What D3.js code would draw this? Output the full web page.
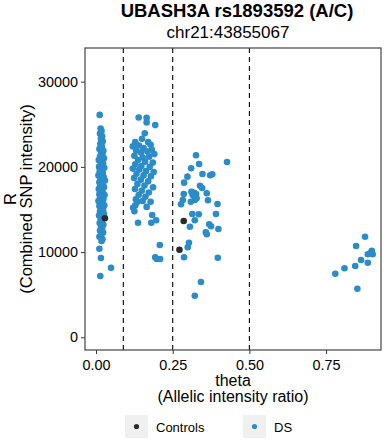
<!DOCTYPE html>
<html>
<head>
<meta charset="utf-8">
<script src="https://cdnjs.cloudflare.com/ajax/libs/d3/7.8.5/d3.min.js"></script>
<style>
  html, body { margin: 0; padding: 0; background: #fff; }
  svg { display: block; font-family: "Liberation Sans", Arial, sans-serif; }
</style>
</head>
<body>
<div id="chart"></div>
<script>
// theta / R pairs
const dsPoints = [
  // near 0
  [0.012, 26100], [0.015, 24500], [0.018, 24200], [0.013, 23900], [0.020, 23600],
  [0.016, 23300], [0.022, 23000], [0.014, 22700], [0.019, 22400], [0.011, 22100],
  [0.024, 21900], [0.017, 21700], [0.021, 21400], [0.013, 21200], [0.026, 21000],
  [0.009, 20800], [0.018, 20600], [0.023, 20400], [0.015, 20200], [0.010, 20000],
  [0.027, 19900], [0.019, 19700], [0.012, 19500], [0.022, 19300], [0.016, 19200],
  [0.008, 19000], [0.025, 18800], [0.014, 18700], [0.020, 18500], [0.029, 18400],
  [0.011, 18200], [0.017, 18100], [0.023, 17900], [0.013, 17700], [0.026, 17600],
  [0.009, 17400], [0.019, 17300], [0.015, 17100], [0.022, 17000], [0.011, 16800],
  [0.028, 16700], [0.017, 16500], [0.013, 16400], [0.024, 16200], [0.008, 16000],
  [0.020, 15900], [0.015, 15700], [0.027, 15500], [0.011, 15400], [0.019, 15200],
  [0.023, 15000], [0.013, 14800], [0.017, 14700], [0.026, 14500], [0.010, 14300],
  [0.021, 14100], [0.015, 13900], [0.019, 13600], [0.012, 13400], [0.024, 13200],
  [0.016, 13000], [0.020, 12700], [0.013, 12500], [0.023, 12300], [0.017, 12000],
  [0.011, 11800], [0.021, 11500], [0.018, 11300],
  [0.011, 10400], [0.016, 9300], [0.049, 8150], [0.014, 7200],
  // 0.09 - 0.25
  [0.139, 25800], [0.165, 25750], [0.165, 25200], [0.193, 24900], [0.159, 23950],
  [0.150, 23300], [0.128, 22900], [0.170, 22900], [0.178, 22600], [0.120, 22400],
  [0.140, 22500], [0.155, 22200], [0.182, 22000], [0.131, 21900], [0.147, 21700],
  [0.168, 21800], [0.190, 21500], [0.125, 21300], [0.152, 21100], [0.173, 21200],
  [0.137, 20800], [0.160, 20600], [0.185, 20500], [0.128, 20300], [0.148, 20100],
  [0.175, 20000], [0.120, 19800], [0.141, 19700], [0.163, 19500], [0.188, 19400],
  [0.132, 19200], [0.155, 19000], [0.179, 18900], [0.124, 18700], [0.146, 18500],
  [0.170, 18300], [0.135, 18000], [0.158, 17800], [0.186, 17600], [0.127, 17400],
  [0.149, 17200], [0.172, 17000], [0.139, 16700], [0.161, 16500], [0.130, 16200],
  [0.152, 16000], [0.178, 15900], [0.135, 15900], [0.128, 15500], [0.121, 15200],
  [0.165, 15300], [0.125, 14800],
  [0.183, 14350], [0.180, 13450], [0.196, 13730], [0.137, 13450],
  [0.208, 10830], [0.193, 9390], [0.209, 9190], [0.198, 9190],
  // 0.25 - 0.5
  [0.326, 21362], [0.427, 20575], [0.336, 20340], [0.310, 19836], [0.347, 19167],
  [0.372, 19014], [0.379, 19131], [0.298, 18850], [0.287, 18146], [0.339, 17793],
  [0.346, 17523], [0.311, 17089], [0.320, 16972], [0.326, 16819], [0.315, 16702],
  [0.286, 16819], [0.361, 16901], [0.328, 16315], [0.322, 16115], [0.309, 15915],
  [0.283, 16115], [0.277, 15610], [0.365, 16080], [0.396, 15646], [0.314, 14472],
  [0.335, 14437], [0.391, 14472], [0.322, 13732], [0.369, 13263], [0.375, 13028],
  [0.306, 12981], [0.399, 12711], [0.358, 12324], [0.361, 12089], [0.303, 11103],
  [0.299, 10563], [0.287, 9390], [0.397, 9343], [0.342, 6491], [0.322, 4883],
  // above 0.75
  [0.877, 11808], [0.848, 10716], [0.899, 10164], [0.893, 9859], [0.902, 9742],
  [0.886, 9742], [0.864, 9073], [0.886, 8756], [0.845, 8369], [0.810, 8099],
  [0.780, 7465], [0.852, 5704]
];
const controlPoints = [[0.029, 13970], [0.286, 13650], [0.272, 10282]];

const cutoffs = [0.089, 0.25, 0.5];
const xTicks = [0, 0.25, 0.5, 0.75];
const yTicks = [0, 10000, 20000, 30000];
const groups = ["Controls", "DS"];
const groupColors = ["#2b2b2b", "#2a8cc8"];

const W = 388, H = 440;
const margin = { top: 48, right: 7, bottom: 90, left: 85 };
const iw = W - margin.left - margin.right;
const ih = H - margin.top - margin.bottom;

const svg = d3.select("#chart").append("svg")
  .attr("width", W)
  .attr("height", H);

const x = d3.scaleLinear().domain([-0.0359, 0.929]).range([0, iw]);
const y = d3.scaleLinear().domain([-1490, 33950]).range([ih, 0]);

const g = svg.append("g")
  .attr("transform", `translate(${margin.left},${margin.top})`);

// cutoff lines
g.selectAll(".cut")
  .data(cutoffs)
  .enter().append("line")
  .attr("x1", d => x(d)).attr("x2", d => x(d))
  .attr("y1", 0).attr("y2", ih)
  .attr("stroke", "#000")
  .attr("stroke-width", 1.1)
  .attr("stroke-dasharray", "5,4");

// points
g.selectAll(".ds")
  .data(dsPoints)
  .enter().append("circle")
  .attr("cx", d => x(d[0]))
  .attr("cy", d => y(d[1]))
  .attr("r", 3.3)
  .attr("fill", groupColors[1]);

g.selectAll(".ctrl")
  .data(controlPoints)
  .enter().append("circle")
  .attr("cx", d => x(d[0]))
  .attr("cy", d => y(d[1]))
  .attr("r", 3.3)
  .attr("fill", groupColors[0]);

// axes
const xAxis = g.append("g")
  .attr("transform", `translate(0,${ih})`)
  .call(d3.axisBottom(x).tickValues(xTicks).tickFormat(d3.format(".2f")).tickSize(4).tickPadding(6));
const yAxis = g.append("g")
  .call(d3.axisLeft(y).tickValues(yTicks).tickFormat(d3.format("d")).tickSize(4).tickPadding(3));
[xAxis, yAxis].forEach(a => {
  a.select(".domain").remove();
  a.selectAll("text").attr("font-size", "14.4px").attr("fill", "#000").attr("font-family", null);
  a.selectAll("line").attr("stroke", "#333");
});

// panel border
g.append("rect")
  .attr("x", 0).attr("y", 0)
  .attr("width", iw).attr("height", ih)
  .attr("fill", "none")
  .attr("stroke", "#444")
  .attr("stroke-width", 1.2);

// titles
svg.append("text")
  .attr("x", 237).attr("y", 17)
  .attr("text-anchor", "middle")
  .attr("font-size", "18.5px")
  .attr("font-weight", "bold")
  .text("UBASH3A rs1893592 (A/C)");

svg.append("text")
  .attr("x", 228).attr("y", 38)
  .attr("text-anchor", "middle")
  .attr("font-size", "17px")
  .text("chr21:43855067");

svg.append("text")
  .attr("x", margin.left + iw / 2).attr("y", 386)
  .attr("text-anchor", "middle")
  .attr("font-size", "16px")
  .text("theta");
svg.append("text")
  .attr("x", margin.left + iw / 2).attr("y", 402)
  .attr("text-anchor", "middle")
  .attr("font-size", "16px")
  .text("(Allelic intensity ratio)");

const yMid = margin.top + ih / 2;
svg.append("text")
  .attr("transform", `translate(16,${yMid}) rotate(-90)`)
  .attr("text-anchor", "middle")
  .attr("font-size", "16.5px")
  .text("R");
svg.append("text")
  .attr("transform", `translate(32,${yMid}) rotate(-90)`)
  .attr("text-anchor", "middle")
  .attr("font-size", "16.5px")
  .text("(Combined SNP intensity)");

// legend
const legendX = [125, 243];
const leg = svg.append("g");
groups.forEach((name, i) => {
  const lg = leg.append("g").attr("transform", `translate(${legendX[i]},415)`);
  lg.append("rect")
    .attr("width", 23).attr("height", 23)
    .attr("fill", "#f0f0f0");
  lg.append("circle")
    .attr("cx", 11.5).attr("cy", 11.5).attr("r", 2.6)
    .attr("fill", groupColors[i]);
  lg.append("text")
    .attr("x", 31).attr("y", 16.5)
    .attr("font-size", "13px")
    .text(name);
});
</script>
</body>
</html>
